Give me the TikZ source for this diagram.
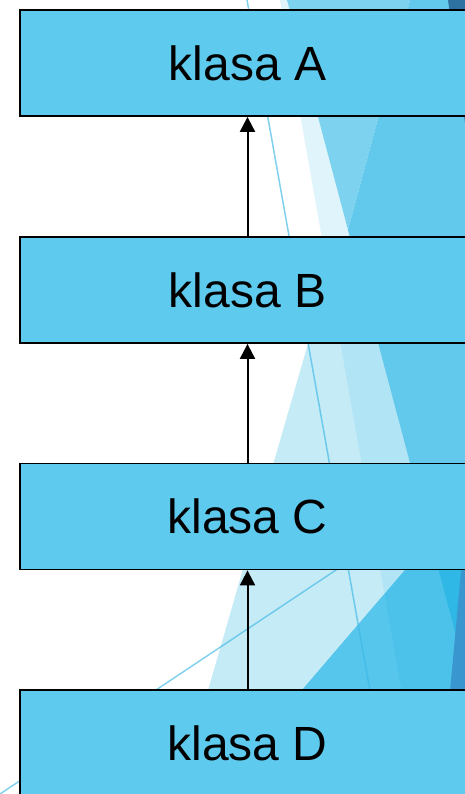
\documentclass[tikz,border=0pt]{standalone}
\usepackage{fontspec}
\setmainfont{Liberation Sans}
\usetikzlibrary{arrows.meta}
\definecolor{boxfill}{HTML}{5ECBEE}
\definecolor{facet}{HTML}{62C9EC}
\definecolor{facetmid}{HTML}{7DD3EF}
\definecolor{facetmb}{HTML}{4CC2EA}
\definecolor{facetmbl}{HTML}{56C6EC}
\definecolor{facetcyan}{HTML}{2FB8E6}
\definecolor{facetdark}{HTML}{3A96CE}
\definecolor{facetnavy}{HTML}{2E72A2}
\definecolor{facetline}{HTML}{3DB8E6}
\begin{document}
\begin{tikzpicture}[x=1pt,y=-1pt,
  klass/.style={draw=black, line width=1.8pt, fill=boxfill, minimum width=455pt,
    minimum height=106pt, inner sep=0pt, font=\fontsize{48}{52}\selectfont},
  inherit/.style={-{Triangle[length=15pt,width=15pt]}, line width=2pt},
  thinline/.style={draw=facetline, draw opacity=0.65, line width=1.5pt}]
\clip (0,0) rectangle (465,794);
\fill[white] (0,0) rectangle (465,794);
% background facets
\fill[facet, opacity=0.37] (335,250) -- (176.4,800) -- (600,800) -- cycle;
\fill[facet, opacity=0.2] (280,0) -- (287,0) -- (499.8,800) -- (420.8,800) -- cycle;
\fill[facetmid] (287,0) -- (410,0) -- (348,230) -- cycle;
\fill[facet] (410,0) -- (348,230) -- (499.8,800) -- (520,800) -- (520,0) -- cycle;
\fill[facetmb] (496.5,463) -- (208,800) -- (520,800) -- (520,463) -- cycle;
\fill[facetmbl] (384.5,594) -- (420.8,800) -- (208,800) -- cycle;
\fill[facetcyan] (430.7,540) -- (499.8,800) -- (520,800) -- (520,463) -- (496.5,463) -- cycle;
\fill[facetdark] (471,463) -- (440,800) -- (520,800) -- (520,463) -- cycle;
\fill[facetnavy] (448,0) -- (466,130) -- (520,130) -- (520,0) -- cycle;
\draw[thinline] (247,0) -- (389.4,800);
\draw[thinline] (0,794) -- (480,474);
% class boxes
\node[klass] (A) at (247.5,63) {klasa A};
\node[klass] (B) at (247.5,290) {klasa B};
\node[klass] (C) at (247.5,516.5) {klasa C};
\node[klass] (D) at (247.5,743) {klasa D};
% inheritance arrows
\draw[inherit] (B.north) -- (A.south);
\draw[inherit] (C.north) -- (B.south);
\draw[inherit] (D.north) -- (C.south);
\end{tikzpicture}
\end{document}
